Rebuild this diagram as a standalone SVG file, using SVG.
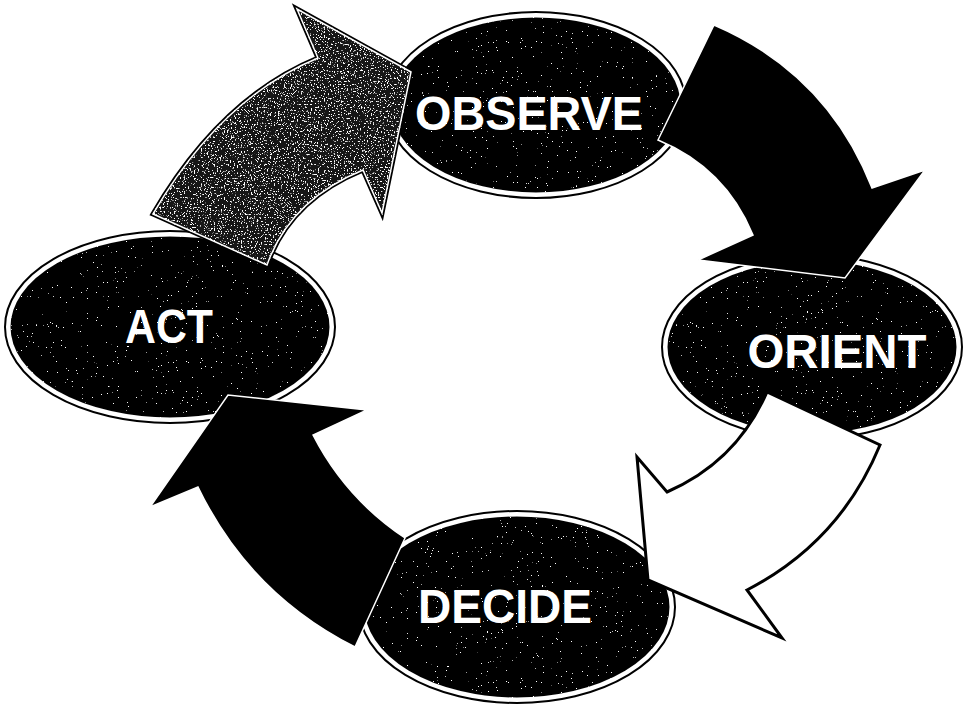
<svg xmlns="http://www.w3.org/2000/svg" width="980" height="704" viewBox="0 0 980 704">
  <defs>
    <filter id="speck" x="-5%" y="-5%" width="110%" height="110%">
      <feTurbulence type="fractalNoise" baseFrequency="0.8" numOctaves="2" seed="7" result="n"/>
      <feColorMatrix in="n" type="matrix" values="0 0 0 0 1  0 0 0 0 1  0 0 0 0 1  30 0 0 0 -22.5" result="d"/>
      <feComposite in="d" in2="SourceAlpha" operator="in" result="d2"/>
      <feMerge><feMergeNode in="SourceGraphic"/><feMergeNode in="d2"/></feMerge>
    </filter>
    <filter id="speckDense" x="-5%" y="-5%" width="110%" height="110%">
      <feTurbulence type="fractalNoise" baseFrequency="0.7" numOctaves="2" seed="3" result="n"/>
      <feColorMatrix in="n" type="matrix" values="0 0 0 0 1  0 0 0 0 1  0 0 0 0 1  12 0 0 0 -7.3" result="d"/>
      <feComposite in="d" in2="SourceAlpha" operator="in" result="d2"/>
      <feMerge><feMergeNode in="SourceGraphic"/><feMergeNode in="d2"/></feMerge>
    </filter>
  </defs>
  <style>
    .ring { fill: none; stroke: #000; stroke-width: 2; }
    .body { fill: #050505; stroke: #fff; stroke-width: 3; filter: url(#speck); }
    .label { font-family: "Liberation Sans", Arial, sans-serif; font-weight: bold; font-size: 48px; fill: #fff; text-anchor: middle; }
    .edge-outline { stroke: #000; stroke-width: 5; stroke-linejoin: miter; fill: #000; }
    .edge-dark { fill: #000; stroke: #fff; stroke-width: 1.5; stroke-linejoin: miter; }
    .edge-gray { fill: #151515; stroke: #fff; stroke-width: 1.5; stroke-linejoin: miter; filter: url(#speckDense); }
    .edge-white { fill: #fff; stroke: #000; stroke-width: 3; stroke-linejoin: miter; }
  </style>
  <rect width="980" height="704" fill="#fff"/>

  <g id="nodes">
    <g id="observe">
      <ellipse class="ring" cx="536" cy="105" rx="150" ry="93"/>
      <ellipse class="body" cx="536" cy="105" rx="146" ry="89"/>
      <text class="label" x="529" y="130" textLength="228" lengthAdjust="spacingAndGlyphs">OBSERVE</text>
    </g>
    <g id="orient">
      <ellipse class="ring" cx="812" cy="347" rx="150" ry="92"/>
      <ellipse class="body" cx="812" cy="347" rx="146" ry="88"/>
      <text class="label" x="837" y="368" textLength="179" lengthAdjust="spacingAndGlyphs">ORIENT</text>
    </g>
    <g id="decide">
      <ellipse class="ring" cx="517" cy="607" rx="158" ry="96"/>
      <ellipse class="body" cx="517" cy="607" rx="154" ry="92"/>
      <text class="label" x="505" y="623" textLength="174" lengthAdjust="spacingAndGlyphs">DECIDE</text>
    </g>
    <g id="act">
      <ellipse class="ring" cx="170" cy="327" rx="165" ry="96"/>
      <ellipse class="body" cx="170" cy="327" rx="161" ry="92"/>
      <text class="label" x="169" y="343" textLength="88" lengthAdjust="spacingAndGlyphs">ACT</text>
    </g>
  </g>

  <g id="connectors">
    <g id="act-to-observe">
      <path class="edge-outline" d="M153,214 L267,265 Q290,200 363,170 L382,213 L411,72 L297,9 L318,58 Q220.5,98 153,214 Z"/>
      <path class="edge-gray" d="M153,214 L267,265 Q290,200 363,170 L382,213 L411,72 L297,9 L318,58 Q220.5,98 153,214 Z"/>
    </g>
    <g id="observe-to-orient">
      <path class="edge-dark" d="M714,25 Q827,73.5 872,188 L925,170 L845,278 L698,260 L753,235 Q725.3,167.7 658,140 Z"/>
    </g>
    <g id="orient-to-decide">
      <path class="edge-white" d="M767,392 L880,445 Q840,542 747,590 L782,638 L648,580 L637,457 L667,492 Q736.8,461.8 767,392 Z"/>
    </g>
    <g id="decide-to-act">
      <path class="edge-dark" d="M355,647 L405,538 Q345.6,498.5 313,435 L367,410 L228,395 L150,507 L198,487 Q249.4,593.6 355,647 Z"/>
    </g>
  </g>
</svg>
